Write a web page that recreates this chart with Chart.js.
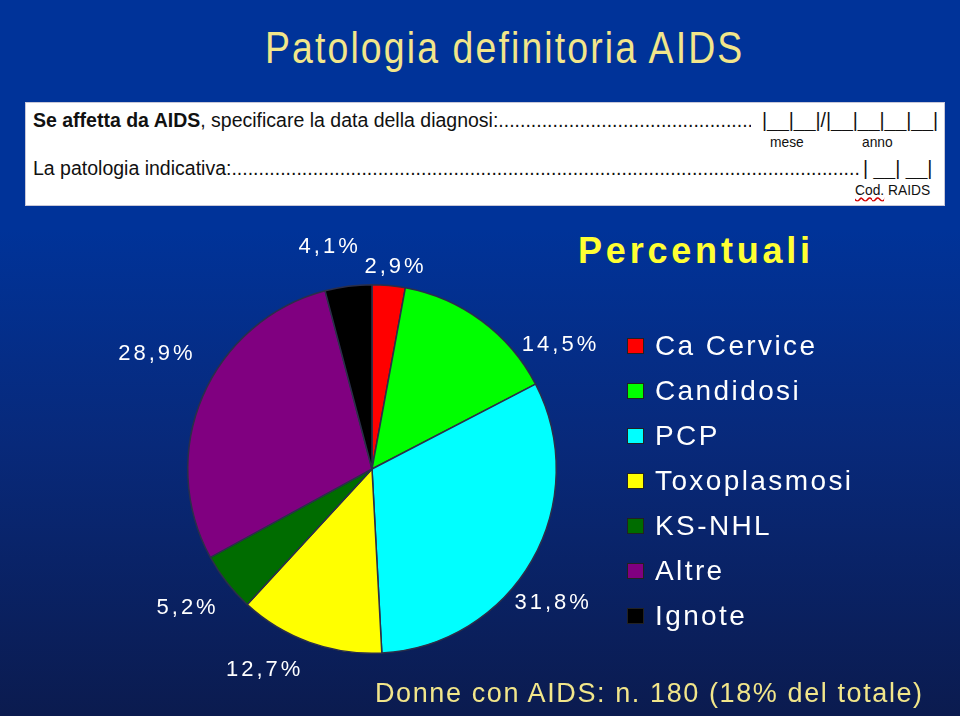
<!DOCTYPE html>
<html lang="it">
<head>
<meta charset="utf-8">
<title>Patologia definitoria AIDS</title>
<script src="https://cdn.jsdelivr.net/npm/chart.js@4.4.1/dist/chart.umd.min.js"></script>
<style>
  html, body { margin: 0; padding: 0; }
  body {
    width: 960px; height: 716px; overflow: hidden; position: relative;
    background: linear-gradient(to bottom, #003399 0%, #003399 32%, #08297a 62%, #0b1b4f 100%);
    font-family: "Liberation Sans", Arial, sans-serif;
  }
  .abs { position: absolute; line-height: 1; white-space: nowrap; }
  #title { left: 265px; top: 26px; font-size: 44px; color: #f2e68a; letter-spacing: 2.5px; transform: scaleX(0.85); transform-origin: left top; }
  #form { left: 25px; top: 102px; width: 920px; height: 104px; background: #fff; box-shadow: inset 0 0 0 1px #c8c8d8; }
  .fl { font-size: 19.5px; color: #111; overflow: hidden; }
  .small { font-size: 15px; color: #111; transform: scaleX(0.92); transform-origin: left top; }
  #sub { left: 578px; top: 233px; font-size: 36px; font-weight: bold; color: #ffff33; letter-spacing: 3.8px; }
  #legend { left: 627px; top: 323px; }
  .row { height: 45px; display: flex; align-items: center; }
  .box { width: 15px; height: 14px; border: 1px solid #222; margin-right: 11px; }
  .row span { font-size: 28px; color: #fff; letter-spacing: 2.4px; }
  #note { left: 375px; top: 680px; font-size: 27px; color: #f2e68a; letter-spacing: 1.6px; }
  #pie { position: absolute; left: 0; top: 0; }
</style>
</head>
<body>
<div id="title" class="abs">Patologia definitoria AIDS</div>

<div id="form" class="abs"></div>
<div class="abs fl" style="left:33px; top:111px; width:718px;"><b>Se affetta da AIDS</b>, specificare la data della diagnosi:...............................................................................................</div>
<div class="abs fl" style="left:762px; top:111px;">|__|__|/|__|__|__|__|</div>
<div class="abs small" style="left:770px; top:134px;">mese</div>
<div class="abs small" style="left:862px; top:134px;">anno</div>
<div class="abs fl" style="left:33px; top:159px; width:828px;">La patologia indicativa:...............................................................................................................................................................................</div>
<div class="abs fl" style="left:863px; top:159px;">|&nbsp;__|&nbsp;__|</div>
<div class="abs small" style="left:855px; top:182px;"><span style="text-decoration: underline wavy #d00000;">Cod.</span> RAIDS</div>

<div id="sub" class="abs">Percentuali</div>

<canvas id="pie" width="960" height="716"></canvas>

<div id="legend" class="abs"></div>

<div id="note" class="abs">Donne con AIDS: n. 180 (18% del totale)</div>

<script>
// Data (percent of women with AIDS)
const categories = ['Ca Cervice', 'Candidosi', 'PCP', 'Toxoplasmosi', 'KS-NHL', 'Altre', 'Ignote'];
const percentages = [2.9, 14.5, 31.8, 12.7, 5.2, 28.9, 4.1];
const sliceColors = ['#ff0000', '#00ff00', '#00ffff', '#ffff00', '#006c00', '#800080', '#000000'];

// label placement tweaks: [degrees added to the slice middle, px beyond the rim]
const labelNudge = [[1, 19], [20, 40], [7, 40], [8.7, 44], [1.2, 48], [4.7, 61], [-3.8, 42]];

function fmtPct(v) {
    return v.toFixed(1).replace('.', ',') + '%';
}

// outside labels in the PowerPoint style
const outsideLabels = {
    id: 'outsideLabels',
    afterDatasetsDraw(chart) {
        const ctx = chart.ctx;
        const meta = chart.getDatasetMeta(0);
        ctx.save();
        ctx.font = '22px "Liberation Sans", Arial, sans-serif';
        ctx.fillStyle = '#ffffff';
        ctx.textAlign = 'center';
        ctx.textBaseline = 'middle';
        ctx.letterSpacing = '3px';
        meta.data.forEach((arc, i) => {
            const p = arc.getProps(['x', 'y', 'startAngle', 'endAngle', 'outerRadius'], true);
            const a = (p.startAngle + p.endAngle) / 2 + labelNudge[i][0] * Math.PI / 180;
            const r = p.outerRadius + labelNudge[i][1];
            ctx.fillText(fmtPct(percentages[i]), p.x + Math.cos(a) * r + 1.5, p.y + Math.sin(a) * r);
        });
        ctx.restore();
    }
};

new Chart(document.getElementById('pie').getContext('2d'), {
    type: 'pie',
    data: {
        labels: categories,
        datasets: [{
            data: percentages,
            backgroundColor: sliceColors,
            borderColor: '#2b2f4a',
            borderWidth: 1.5
        }]
    },
    options: {
        responsive: false,
        animation: false,
        layout: { padding: { left: 187, top: 284, right: 403, bottom: 62 } },
        plugins: {
            legend: { display: false },
            tooltip: { enabled: false }
        }
    },
    plugins: [outsideLabels]
});

// legend on the right
const legendEl = document.getElementById('legend');
categories.forEach((name, i) => {
    const row = document.createElement('div');
    row.className = 'row';
    row.innerHTML = `<div class="box" style="background:${sliceColors[i]}"></div><span>${name}</span>`;
    legendEl.appendChild(row);
});
</script>
</body>
</html>
